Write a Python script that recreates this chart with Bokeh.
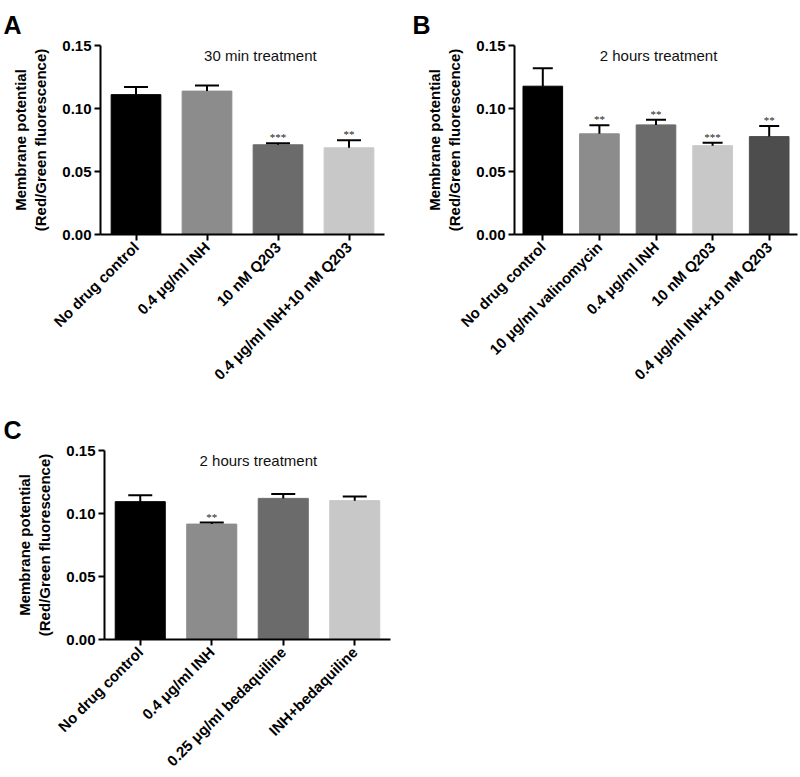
from math import pi
from bokeh.plotting import figure
from bokeh.models import (Range1d, FactorRange, FixedTicker, NumeralTickFormatter,
                          ColumnDataSource, Whisker, TeeHead, LabelSet, Label)
from bokeh.layouts import column, row
from bokeh.embed import file_html
from bokeh.resources import INLINE

FONT = "Liberation Sans"

# ---- Panel A: 30 min treatment ----
cats_a = ["No drug control", "0.4 μg/ml INH", "10 nM Q203", "0.4 μg/ml INH+10 nM Q203"]
vals_a = [0.1110, 0.1138, 0.0712, 0.0688]
errs_a = [0.0060, 0.0045, 0.0012, 0.0060]
stars_a = ["", "", "***", "**"]
colors_a = ["#000000", "#8c8c8c", "#6b6b6b", "#c8c8c8"]

# ---- Panel B: 2 hours treatment ----
cats_b = ["No drug control", "10 μg/ml valinomycin", "0.4 μg/ml INH", "10 nM Q203",
          "0.4 μg/ml INH+10 nM Q203"]
vals_b = [0.1177, 0.0799, 0.0870, 0.0705, 0.0777]
errs_b = [0.0143, 0.0069, 0.0040, 0.0023, 0.0085]
stars_b = ["", "**", "**", "***", "**"]
colors_b = ["#000000", "#8c8c8c", "#6b6b6b", "#c8c8c8", "#4d4d4d"]

# ---- Panel C: 2 hours treatment ----
cats_c = ["No drug control", "0.4 μg/ml INH", "0.25 μg/ml bedaquiline", "INH+bedaquiline"]
vals_c = [0.1094, 0.0916, 0.1120, 0.1102]
errs_c = [0.0051, 0.0012, 0.0035, 0.0032]
stars_c = ["", "**", "", ""]
colors_c = ["#000000", "#8c8c8c", "#6b6b6b", "#c8c8c8"]

y_ticks = [0.0, 0.05, 0.10, 0.15]
y_label = "Membrane potential\n(Red/Green fluorescence)"


def panel(letter, subtitle, cats, vals, errs, stars, colors, fw, fh,
          b_left, b_right, b_top, title_offset, title_standoff, cap, sub_frac):
    hi = [v + e for v, e in zip(vals, errs)]
    src = ColumnDataSource(dict(cat=cats, val=vals, hi=hi, stars=stars, color=colors))
    p = figure(x_range=FactorRange(*cats), y_range=Range1d(0, 0.15),
               frame_width=fw, frame_height=fh, output_backend="svg",
               toolbar_location=None, min_border_left=b_left,
               min_border_right=b_right, min_border_top=b_top, min_border_bottom=0)
    p.vbar(x="cat", top="val", width=0.7, fill_color="color", line_color="color",
           source=src)
    w = Whisker(base="cat", lower="val", upper="hi", source=src, line_color="black",
                line_width=2, upper_head=TeeHead(size=cap, line_width=2, line_color="black"),
                lower_head=None, level="overlay")
    p.add_layout(w)
    p.add_layout(LabelSet(x="cat", y="hi", text="stars", source=src, text_align="center",
                          text_baseline="alphabetic", y_offset=2, text_font_size="11px",
                          text_color="#222222", text_font=FONT))
    p.add_layout(Label(x=sub_frac * len(cats), y=0.15, y_offset=-1, text=subtitle,
                       text_align="center", text_baseline="top", text_font_size="15px",
                       text_font=FONT, text_color="#111111"))

    p.title.text = letter
    p.title.text_font = FONT
    p.title.text_font_size = "25px"
    p.title.text_font_style = "bold"
    p.title.text_color = "black"
    p.title.align = "left"
    p.title.offset = title_offset
    p.title.standoff = title_standoff

    p.xgrid.grid_line_color = None
    p.ygrid.grid_line_color = None
    p.outline_line_color = None

    for ax in (p.xaxis, p.yaxis):
        ax.axis_line_width = 2
        ax.axis_line_color = "black"
        ax.major_tick_line_width = 2
        ax.major_tick_line_color = "black"
        ax.major_tick_out = 6
        ax.major_tick_in = 0
        ax.minor_tick_line_color = None
        ax.major_label_text_font = FONT
        ax.major_label_text_font_size = "15px"
        ax.major_label_text_font_style = "bold"
        ax.major_label_text_color = "black"

    p.xaxis.major_label_orientation = pi / 4
    p.xaxis.major_label_standoff = 4

    p.yaxis.ticker = FixedTicker(ticks=y_ticks)
    p.yaxis.formatter = NumeralTickFormatter(format="0.00")
    p.yaxis.major_label_standoff = 3
    p.yaxis.axis_label = y_label
    p.yaxis.axis_label_text_font = FONT
    p.yaxis.axis_label_text_font_size = "15px"
    p.yaxis.axis_label_text_font_style = "bold"
    p.yaxis.axis_label_text_color = "black"
    p.yaxis.axis_label_standoff = 10
    return p


pA = panel("A", "30 min treatment", cats_a, vals_a, errs_a, stars_a, colors_a,
           284, 189, 100, 16, 45, -97, 14, 24, 0.563)
pB = panel("B", "2 hours treatment", cats_b, vals_b, errs_b, stars_b, colors_b,
           283, 189, 114, 3, 45, -102, 14, 20, 0.509)
pC = panel("C", "2 hours treatment", cats_c, vals_c, errs_c, stars_c, colors_c,
           286, 189, 104, 10, 59, -101, 14, 24, 0.538)

layout = column(row(pA, pB), pC)
open("out.html", "w").write(file_html(layout, INLINE))
